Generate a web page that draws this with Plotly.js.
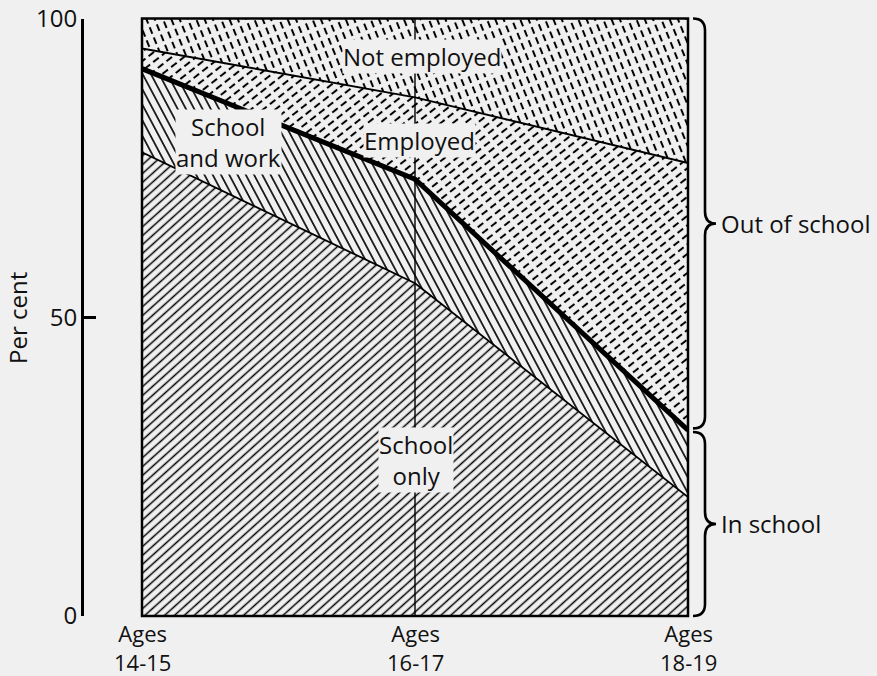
<!DOCTYPE html>
<html>
<head>
<meta charset="utf-8">
<script src="https://cdn.plot.ly/plotly-3.0.1.min.js"></script>
<style>
html, body { margin: 0; padding: 0; background: #f0f0f0; }
#chart { width: 877px; height: 676px; }
</style>
</head>
<body>
<div id="chart"></div>
<script>
// ---------------- data ----------------
const ageGroups = ["14-15", "16-17", "18-19"];
const agePrefix = "Ages";
// percentage of each age group (stacked from the bottom)
const schoolOnly    = [77.6, 55.7, 19.9];
const schoolAndWork = [14.0, 17.4, 11.2];
const employed      = [3.4, 13.7, 44.7];   // out of school, employed
const notEmployed   = [5.0, 13.2, 24.2];   // out of school, not employed
const yTickVals = [0, 50, 100];
const yTickText = ["0", "50", "100"];
const yTitle = "Per cent";
const areaLabels = {
  notEmployed: ["Not employed"],
  employed: ["Employed"],
  schoolAndWork: ["School", "and work"],
  schoolOnly: ["School", "only"]
};
const braceLabels = ["Out of school", "In school"];

// ---------------- styles ----------------
const BG = "#f0f0f0";
const INK = "#111111";
const FONT = "Open Sans";
const FS = 24;
const W = 877, H = 676;
const xDom = [142 / W, 688 / W];
const yDom = [(H - 616) / H, (H - 18.5) / H];

const hatches = {
  schoolOnly:    { size: 6.6, rot: 48,  lw: 1.5, dash: null },
  schoolAndWork: { size: 7.3, rot: -28, lw: 1.6, dash: null },
  employed:      { size: 7.5, rot: 52,  lw: 2.0, dash: [7, 4] },
  notEmployed:   { size: 7.7, rot: -22, lw: 2.0, dash: [7, 4] }
};

function areaTrace(name, values, lineWidth) {
  const h = hatches[name];
  return {
    type: "scatter", mode: "lines", uid: name, name: name,
    x: ageGroups, y: values, stackgroup: "one",
    line: { color: "#000", width: lineWidth, shape: "linear" },
    fillcolor: "rgba(0,0,0,0)",
    fillpattern: { shape: "|", size: h.size, solidity: h.lw / h.size, fgcolor: "#000", fillmode: "replace" },
    hoverinfo: "skip", showlegend: false
  };
}

const data = [
  areaTrace("schoolOnly", schoolOnly, 1.8),
  areaTrace("schoolAndWork", schoolAndWork, 5),
  areaTrace("employed", employed, 2),
  areaTrace("notEmployed", notEmployed, 0)
];

// helpers for labels
const px2x = p => (p - 142) / (688 - 142) * (ageGroups.length - 1);
const px2y = p => (616 - p) / (616 - 18.5) * 100;
function areaAnn(lines, xpx, ypx) {
  return {
    text: lines.join("<br>"), x: px2x(xpx), y: px2y(ypx), xref: "x", yref: "y",
    showarrow: false, font: { family: FONT, size: FS, color: INK }, align: "center",
    bgcolor: BG, borderpad: 0, xanchor: "center", yanchor: "middle"
  };
}
const annotations = [
  areaAnn(areaLabels.notEmployed, 422, 57),
  areaAnn(areaLabels.employed, 419, 141),
  areaAnn(areaLabels.schoolAndWork, 228, 142),
  areaAnn(areaLabels.schoolOnly, 416, 460)
];
// x labels (two lines each, under the category positions)
ageGroups.forEach((g, i) => {
  annotations.push({ text: agePrefix + "<br>" + g, x: i, xref: "x", y: -3 / H, yref: "paper",
    showarrow: false, font: { family: FONT, size: 22, color: INK }, align: "center",
    xanchor: "center", yanchor: "bottom" });
});
// y title
annotations.push({ text: yTitle, textangle: -90, x: 17 / W, y: (H - 318) / H, xref: "paper", yref: "paper",
  showarrow: false, font: { family: FONT, size: FS, color: INK }, xanchor: "center", yanchor: "middle" });

// braces
const inSchoolTop = schoolOnly[2] + schoolAndWork[2];
const y2py = v => 616 - v / 100 * (616 - 18.5);
const braceX = { end: 693, spine: 705, tip: 716 };
function bracePath(vTop, vBot) {
  const t = y2py(vTop), b = y2py(vBot), m = (t + b) / 2, r = 12;
  const P = (x, y) => (x / W).toFixed(5) + "," + ((H - y) / H).toFixed(5);
  return "M" + P(braceX.end, t) +
    " Q" + P(braceX.spine, t) + " " + P(braceX.spine, t + r) +
    " L" + P(braceX.spine, m - r) +
    " Q" + P(braceX.spine, m) + " " + P(braceX.tip, m) +
    " Q" + P(braceX.spine, m) + " " + P(braceX.spine, m + r) +
    " L" + P(braceX.spine, b - r) +
    " Q" + P(braceX.spine, b) + " " + P(braceX.end, b);
}
const braceRanges = [[100, inSchoolTop + 0.3], [inSchoolTop - 0.3, 0]];
braceRanges.forEach((rg, i) => {
  const m = (y2py(rg[0]) + y2py(rg[1])) / 2;
  annotations.push({ text: braceLabels[i], x: 719 / W, y: (H - m) / H, xref: "paper", yref: "paper",
    showarrow: false, font: { family: FONT, size: FS, color: INK }, xanchor: "left", yanchor: "middle" });
});

const shapes = [
  { type: "line", xref: "x", yref: "y", x0: 1, x1: 1, y0: 0, y1: 100,
    line: { color: "#000", width: 1.4 }, layer: "above" },
  { type: "rect", xref: "x domain", yref: "y domain", x0: 0, x1: 1, y0: 0, y1: 1,
    line: { color: "#000", width: 2.5 }, layer: "above" }
].concat(braceRanges.map(rg => ({
  type: "path", xref: "paper", yref: "paper", path: bracePath(rg[0], rg[1]),
  line: { color: "#000", width: 2.6 }, layer: "above"
})));

const layout = {
  width: W, height: H,
  margin: { l: 0, r: 0, t: 0, b: 0, pad: 0 },
  paper_bgcolor: BG, plot_bgcolor: BG,
  showlegend: false,
  font: { family: FONT, size: FS, color: INK },
  xaxis: {
    type: "category", domain: xDom, range: [0, ageGroups.length - 1],
    showgrid: false, zeroline: false, showline: false, showticklabels: false, ticks: "",
    fixedrange: true
  },
  yaxis: {
    domain: yDom, range: [0, 100], anchor: "free", position: 82 / W,
    showgrid: false, zeroline: false, showline: true, linecolor: "#000", linewidth: 3,
    ticks: "inside", ticklen: 12, tickwidth: 2.5, tickcolor: "#000",
    tickvals: yTickVals, ticktext: yTickText, ticklabelstandoff: -1,
    tickfont: { family: FONT, size: FS, color: INK }, fixedrange: true
  },
  annotations: annotations,
  shapes: shapes
};

function refineHatch() {
  try {
    document.querySelectorAll("pattern").forEach(p => {
      const w = parseFloat(p.getAttribute("width"));
      const h = Object.values(hatches).find(o => Math.abs(o.size - w) < 0.05);
      if (!h) return;
      const path = p.querySelector("path");
      if (!path) return;
      const ht = h.dash ? h.dash[0] + h.dash[1] : w;
      p.setAttribute("height", ht);
      p.setAttribute("patternTransform", "rotate(" + h.rot + ")");
      path.setAttribute("d", "M" + (w / 2) + ",0L" + (w / 2) + "," + ht);
      path.setAttribute("stroke-width", h.lw + "px");
      path.style.strokeWidth = h.lw + "px";
      if (h.dash) path.setAttribute("stroke-dasharray", h.dash.join(" "));
    });
  } catch (e) { /* keep library default hatching */ }
}

Plotly.newPlot("chart", data, layout, { staticPlot: true, displayModeBar: false })
  .then(refineHatch);
</script>
</body>
</html>
